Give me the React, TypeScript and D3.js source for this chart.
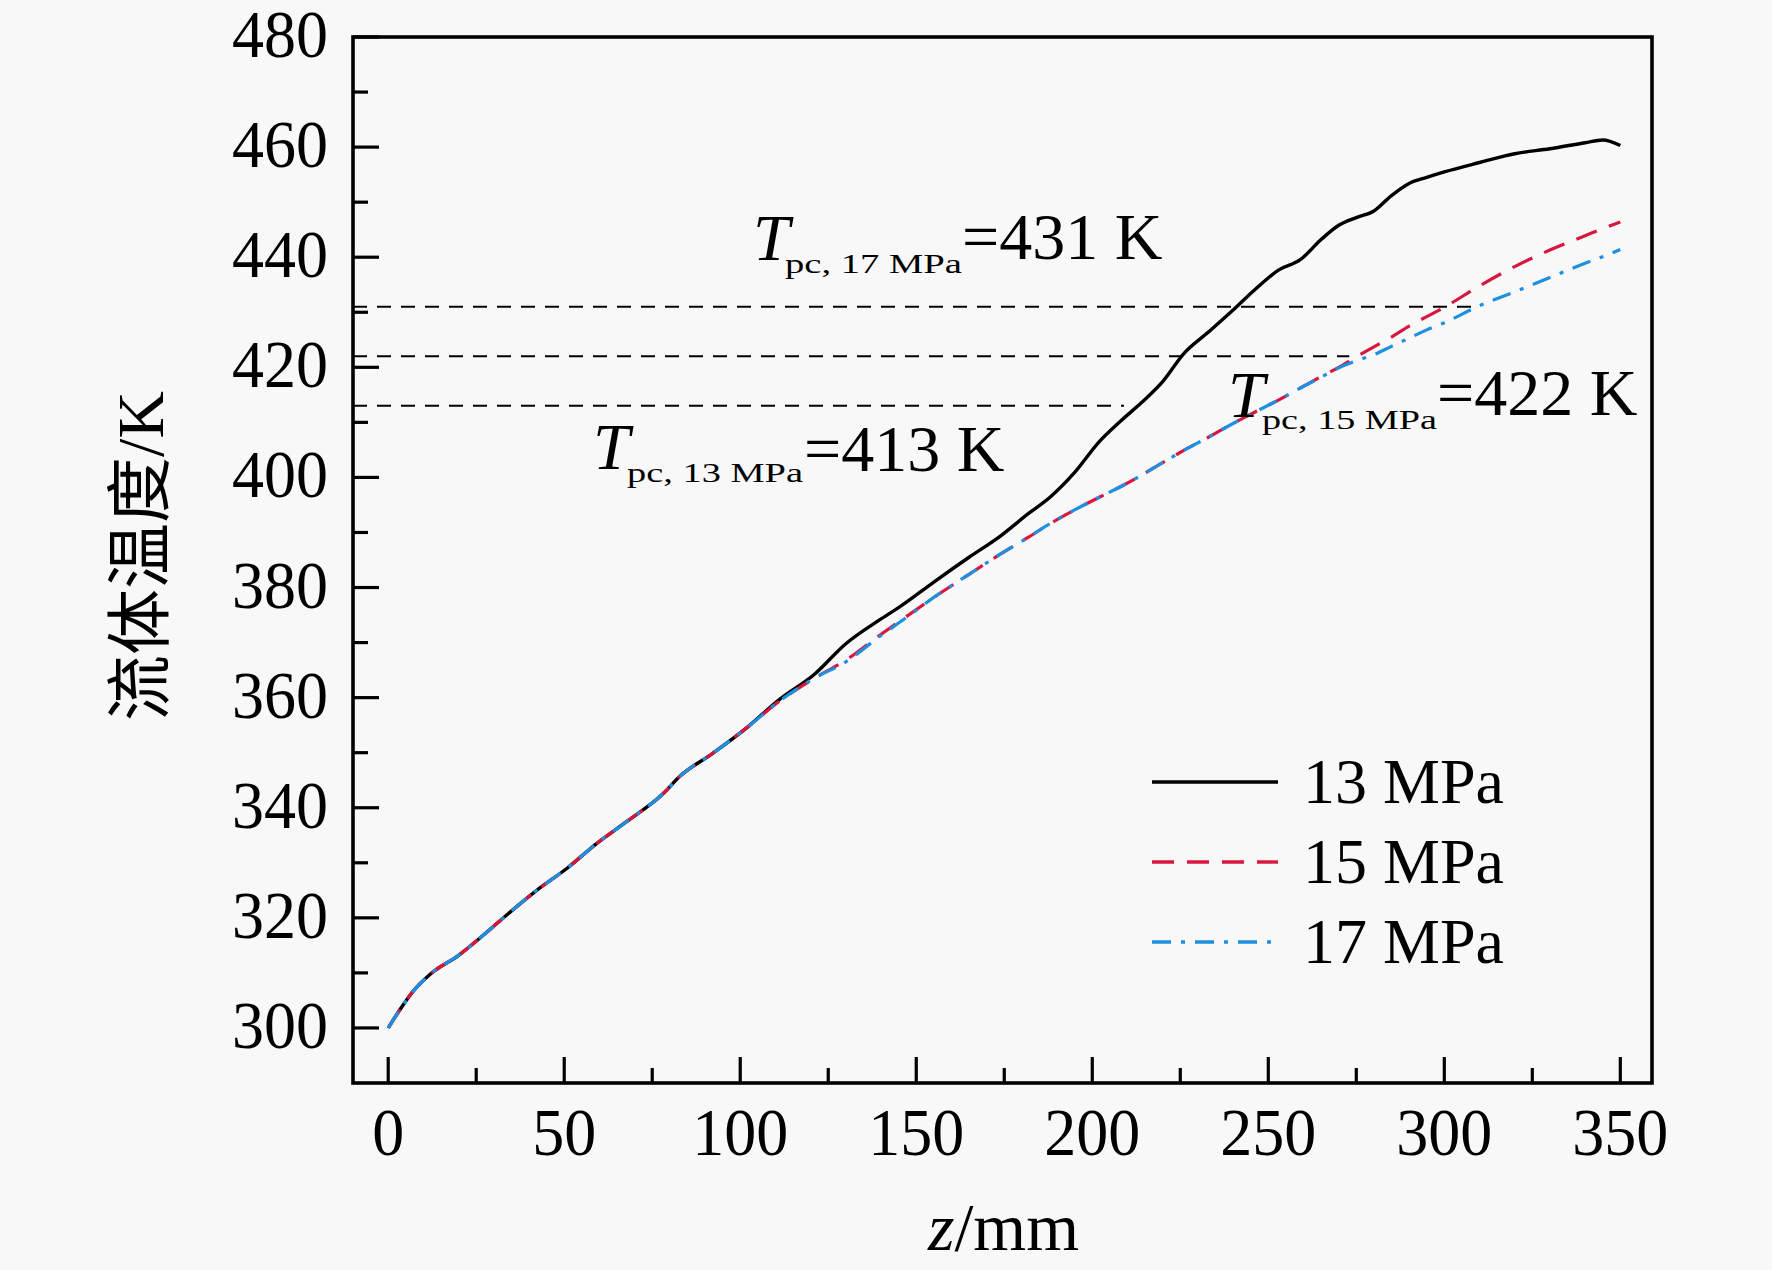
import React from "react";
import * as d3 from "d3";

// ---- data ----
const zPos = [0, 3, 7, 12, 20, 26, 34, 42, 51, 59, 68, 78, 83, 92, 102, 111, 121, 130, 140, 146, 155, 165, 174, 182, 188, 195, 202, 208, 214, 220, 226, 233, 240, 246, 253, 259, 265, 270, 275, 280, 285, 290, 295, 300, 310, 320, 330, 340, 345, 350];

const t13 = [300, 303, 306.6, 309.8, 313.2, 316.3, 320.7, 324.9, 329.1, 333.4, 337.6, 342.5, 345.8, 349.8, 354.6, 359.6, 364.2, 369.8, 374.3, 376.8, 381, 385.5, 389.4, 393.5, 396.4, 400.9, 406.5, 410.2, 413.6, 417.4, 422.5, 426.4, 430.4, 434, 437.7, 439.5, 443.2, 445.8, 447.2, 448.4, 451.2, 453.4, 454.5, 455.5, 457.2, 458.8, 459.7, 460.8, 461.3, 460.3];

const t15 = [300, 303, 306.6, 309.8, 313.2, 316.3, 320.7, 324.9, 329.1, 333.4, 337.6, 342.5, 345.8, 349.8, 354.6, 359.3, 363.5, 366.8, 371.5, 374.2, 378.2, 382.4, 386.1, 389.2, 391.6, 394.1, 396.4, 398.3, 400.4, 402.7, 404.9, 407.3, 409.8, 411.8, 414.1, 416.2, 418.3, 420, 421.9, 423.7, 425.5, 427.5, 429.2, 430.9, 434.8, 438.3, 441.3, 443.9, 445.2, 446.4];

const t17 = [300, 303, 306.6, 309.8, 313.2, 316.3, 320.7, 324.9, 329.1, 333.4, 337.6, 342.5, 345.8, 349.8, 354.6, 359.3, 363.5, 366.5, 371.3, 374, 378.2, 382.4, 386.1, 389.2, 391.6, 394.1, 396.4, 398.3, 400.4, 402.7, 404.9, 407.3, 409.8, 411.8, 414.1, 416.2, 418.2, 419.9, 421.2, 422.3, 423.8, 425.3, 426.8, 428.1, 431.2, 433.7, 436.3, 438.9, 440.1, 441.4];

const seriesNames = ["13 MPa", "15 MPa", "17 MPa"];
const tpcValues = [413, 422, 431];
const tpcEnds = [209, 273, 308]; // z where each reference line ends
const xTicks = [0, 50, 100, 150, 200, 250, 300, 350];
const xMinor = [25, 75, 125, 175, 225, 275, 325];
const yTicks = [300, 320, 340, 360, 380, 400, 420, 440, 460, 480];
const yMinor = [310, 330, 350, 370, 390, 410, 430, 450, 470];

const W = 1772;
const H = 1270;
const serif = "'Liberation Serif', 'Times New Roman', serif";

export default function App() {
  const x = d3.scaleLinear().domain([-10, 359]).range([353, 1652]);
  const y = d3.scaleLinear().domain([290, 480]).range([1083, 37]);

  const line = d3
    .line<number>()
    .x((_, i) => x(zPos[i]))
    .y((d) => y(d))
    .curve(d3.curveMonotoneX);

  const series = [
    { name: seriesNames[0], vals: t13, color: "#000000", dash: "none", w: 3.4 },
    { name: seriesNames[1], vals: t15, color: "#d8173f", dash: "22 13", w: 3.2 },
    { name: seriesNames[2], vals: t17, color: "#1f8fe0", dash: "19 10 4 10", w: 3.2 },
  ];

  const left = x.range()[0];
  const right = x.range()[1];
  const top = y.range()[1];
  const bottom = y.range()[0];

  const annots = [
    { v: tpcValues[2], tx: 753, ty: 260, sx: 785, sy: 273, sl: 177, sub: "pc, 17 MPa", ex: 962, ey: 259 },
    { v: tpcValues[0], tx: 593, ty: 469, sx: 627, sy: 482, sl: 176, sub: "pc, 13 MPa", ex: 804, ey: 471 },
    { v: tpcValues[1], tx: 1228, ty: 417, sx: 1262, sy: 429, sl: 175, sub: "pc, 15 MPa", ex: 1437, ey: 415 },
  ];

  return (
    <div style={{ position: "fixed", left: 0, top: 0 }}>
      <svg width={W} height={H} style={{ display: "block", background: "#f8f8f8" }}>
        <rect x={0} y={0} width={W} height={H} fill="#f8f8f8" />

        {/* reference lines */}
        {tpcValues.map((v, i) => (
          <line
            key={"ref" + i}
            x1={left}
            x2={x(tpcEnds[i])}
            y1={y(v)}
            y2={y(v)}
            stroke="#000"
            strokeWidth={2}
            strokeDasharray="14 10"
          />
        ))}

        {/* series */}
        {series.map((s) => (
          <path
            key={s.name}
            d={line(s.vals) || ""}
            fill="none"
            stroke={s.color}
            strokeWidth={s.w}
            strokeDasharray={s.dash}
            strokeLinejoin="round"
          />
        ))}

        {/* frame */}
        <rect x={left} y={top} width={right - left} height={bottom - top} fill="none" stroke="#000" strokeWidth={3.6} />

        {/* x ticks */}
        {xTicks.map((t) => (
          <g key={"xt" + t}>
            <line x1={x(t)} x2={x(t)} y1={bottom} y2={bottom - 26} stroke="#000" strokeWidth={3.2} />
            <text
              transform={`translate(${x(t)},1155) scale(1,1.07)`}
              fontFamily={serif}
              fontSize={64}
              textAnchor="middle"
              fill="#000"
            >
              {t}
            </text>
          </g>
        ))}
        {xMinor.map((t) => (
          <line key={"xm" + t} x1={x(t)} x2={x(t)} y1={bottom} y2={bottom - 15} stroke="#000" strokeWidth={3.2} />
        ))}

        {/* y ticks */}
        {yTicks.map((t) => (
          <g key={"yt" + t}>
            <line x1={left} x2={left + 26} y1={y(t)} y2={y(t)} stroke="#000" strokeWidth={3.2} />
            <text
              transform={`translate(328,${y(t) + 20}) scale(1,1.07)`}
              fontFamily={serif}
              fontSize={64}
              textAnchor="end"
              fill="#000"
            >
              {t}
            </text>
          </g>
        ))}
        {yMinor.map((t) => (
          <line key={"ym" + t} x1={left} x2={left + 15} y1={y(t)} y2={y(t)} stroke="#000" strokeWidth={3.2} />
        ))}

        {/* annotations */}
        {annots.map((a, i) => (
          <g key={"an" + i} fontFamily={serif} fill="#000">
            <text x={a.tx} y={a.ty} fontSize={66} fontStyle="italic">
              T
            </text>
            <text x={a.sx} y={a.sy} fontSize={28} textLength={a.sl} lengthAdjust="spacingAndGlyphs">
              {a.sub}
            </text>
            <text x={a.ex} y={a.ey} fontSize={66}>
              {"=" + a.v + " K"}
            </text>
          </g>
        ))}

        {/* legend */}
        {series.map((s, i) => {
          const ly = 782 + i * 80;
          return (
            <g key={"lg" + i}>
              <line x1={1152} x2={1278} y1={ly} y2={ly} stroke={s.color} strokeWidth={3.4} strokeDasharray={s.dash} />
              <text x={1303} y={ly + 21} fontFamily={serif} fontSize={64} fill="#000">
                {s.name}
              </text>
            </g>
          );
        })}

        {/* axis titles */}
        <text x={928} y={1250} fontFamily={serif} fontSize={68} fill="#000">
          <tspan fontStyle="italic">z</tspan>
          <tspan>/mm</tspan>
        </text>
        <text
          transform="translate(163,556) rotate(-90)"
          textAnchor="middle"
          fontSize={66}
          fill="#000"
        >
          <tspan fontFamily="'Noto Sans CJK SC', sans-serif">流体温度</tspan>
          <tspan fontFamily={serif}>/K</tspan>
        </text>
      </svg>
    </div>
  );
}
